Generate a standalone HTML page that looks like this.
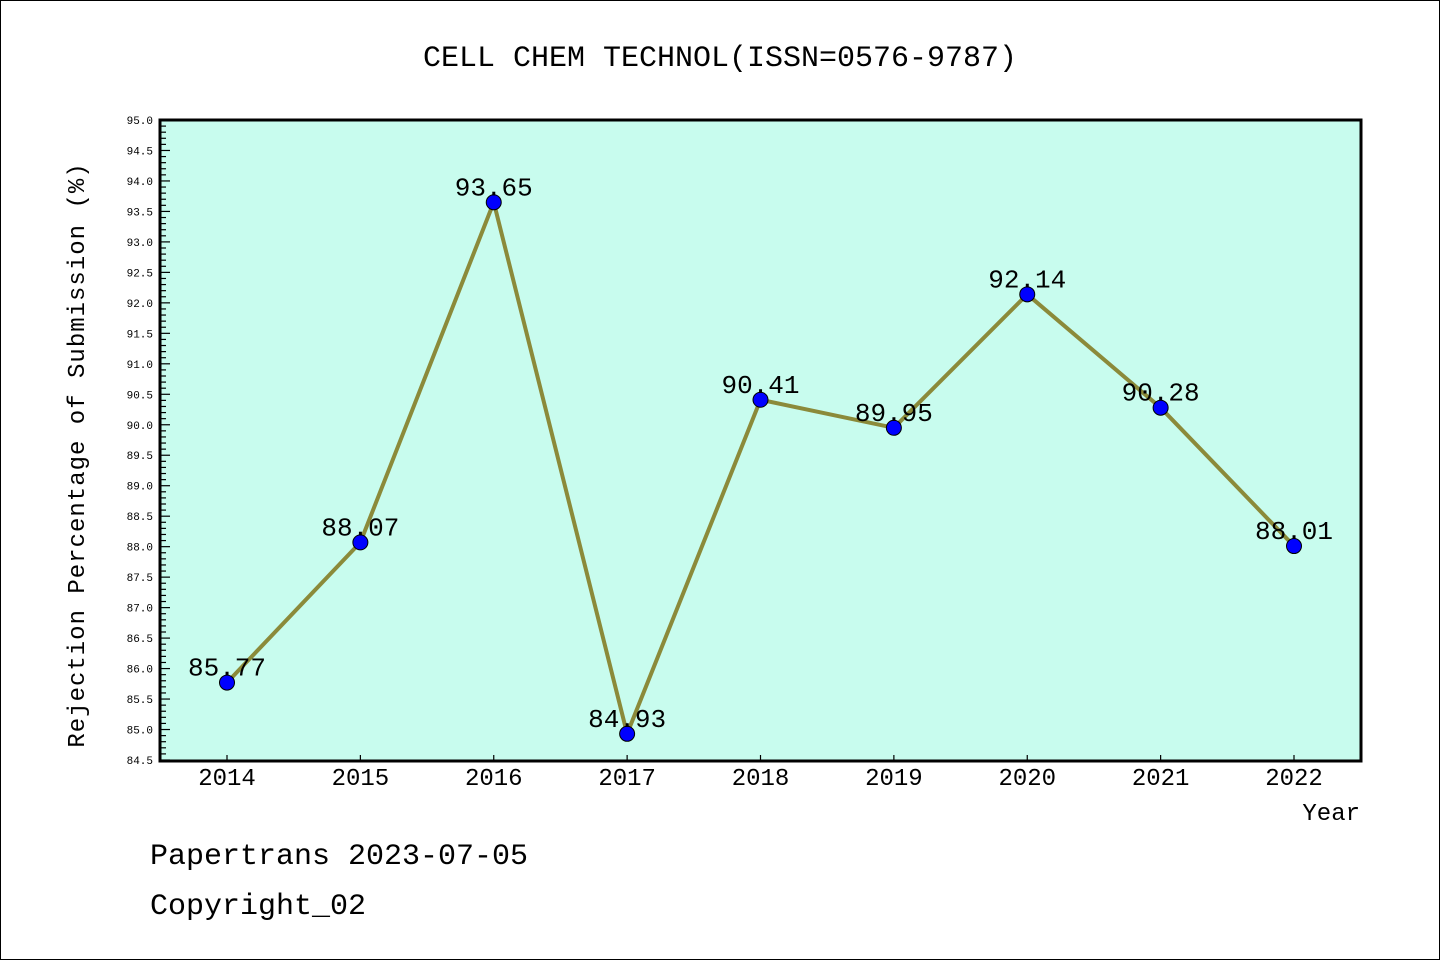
<!DOCTYPE html>
<html><head><meta charset="utf-8"><style>
html,body{margin:0;padding:0;background:#fff}
svg{display:block}
text{font-family:"Liberation Mono","WenQuanYi Zen Hei",monospace}
</style></head><body>
<svg id="chart" width="1440" height="960" xmlns="http://www.w3.org/2000/svg">
<rect x="0.5" y="0.5" width="1439" height="959" fill="#fff" stroke="#000" stroke-width="1"/>
<text x="720" y="66" font-size="30" text-anchor="middle">CELL CHEM TECHNOL(ISSN=0576-9787)</text>
<rect x="160" y="120" width="1201" height="641" fill="#c8fcee"/>
<g id="grid"></g>
<g id="series"></g>
<rect x="160" y="120" width="1201" height="641" fill="none" stroke="#000" stroke-width="3"/>
<text x="1360" y="820" font-size="24" text-anchor="end">Year</text>
<text transform="translate(84,455) rotate(-90)" font-size="24" letter-spacing="1" text-anchor="middle">Rejection Percentage of Submission (%)</text>
<text x="150" y="864" font-size="30">Papertrans 2023-07-05</text>
<text x="150" y="914" font-size="30">Copyright_02</text>
</svg>
<script>
const years = ["2014","2015","2016","2017","2018","2019","2020","2021","2022"];
const values = [85.77, 88.07, 93.65, 84.93, 90.41, 89.95, 92.14, 90.28, 88.01];
const labels = ["85.77","88.07","93.65","84.93","90.41","89.95","92.14","90.28","88.01"];
const yMin = 84.5, yMax = 95.0;
const NS = "http://www.w3.org/2000/svg";
function yScale(v){ return 760 - (v - yMin) / (yMax - yMin) * 640; }
function xScale(i){ return 227 + i * (1294 - 227) / (years.length - 1); }
function mk(tag, attrs, parent){ const e=document.createElementNS(NS,tag); for(const k in attrs) e.setAttribute(k,attrs[k]); parent.appendChild(e); return e; }
const grid = document.getElementById('grid');
const series = document.getElementById('series');
for(let k=0;k<=Math.round((yMax-yMin)*10);k++){
  const v = yMin + k*0.1;
  const y = yScale(v);
  const major = k%5===0;
  const t = mk('line',{x1:160,x2:160+(major?10:6),y1:y,y2:y,stroke:'#000','stroke-width':1.2},grid);
  
  
  if(major){
    const l = mk('text',{x:153,y:y+4,'font-size':11,'text-anchor':'end'},grid);
    l.textContent = v.toFixed(1);
    
    
  }
}
years.forEach((yr,i)=>{
  const x = xScale(i);
  const t = mk('line',{x1:x,x2:x,y1:761,y2:755,stroke:'#000','stroke-width':1.2},grid);
  
  
  const l = mk('text',{x:x,y:785,'font-size':24,'text-anchor':'middle'},grid);
  l.textContent = yr;
  
  
});
const pts = values.map((v,i)=>xScale(i)+','+yScale(v)).join(' ');
const line = mk('polyline',{points:pts,fill:'none',stroke:'#8b8a3a','stroke-width':4,'stroke-linejoin':'round'},series);


values.forEach((v,i)=>{
  const c = mk('circle',{cx:xScale(i),cy:yScale(v),r:7.5,fill:'#0000ff',stroke:'#000','stroke-width':1},series);
  
  
});
values.forEach((v,i)=>{
  const l = mk('text',{x:xScale(i),y:yScale(v)-7,'font-size':26,'text-anchor':'middle'},series);
  l.textContent = labels[i];
  
  
});
</script>
</body></html>
